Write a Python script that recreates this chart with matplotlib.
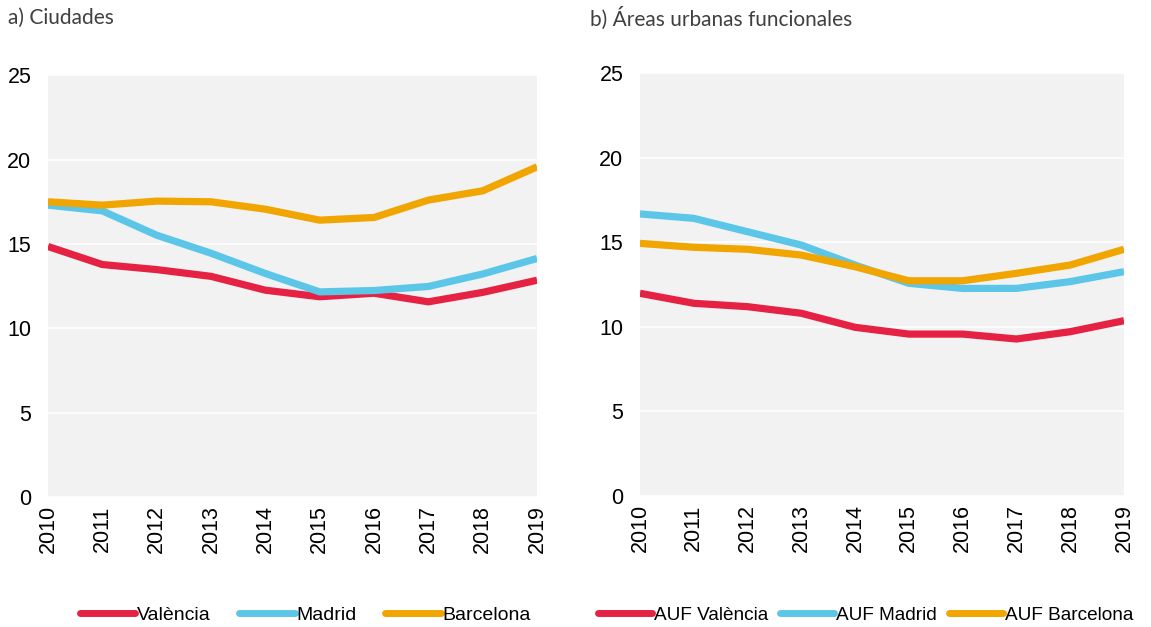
import matplotlib
matplotlib.use("Agg")
import matplotlib.pyplot as plt

years = [2010, 2011, 2012, 2013, 2014, 2015, 2016, 2017, 2018, 2019]

# a) Ciudades
valencia = [14.85, 13.78, 13.48, 13.08, 12.26, 11.87, 12.08, 11.57, 12.13, 12.85]
madrid = [17.3, 16.96, 15.52, 14.45, 13.25, 12.16, 12.24, 12.48, 13.22, 14.14]
barcelona = [17.5, 17.3, 17.54, 17.5, 17.06, 16.41, 16.57, 17.6, 18.15, 19.57]

# b) Areas urbanas funcionales
auf_valencia = [11.98, 11.39, 11.19, 10.8, 9.97, 9.57, 9.57, 9.28, 9.71, 10.36]
auf_madrid = [16.67, 16.41, 15.62, 14.83, 13.65, 12.57, 12.27, 12.27, 12.67, 13.26]
auf_barcelona = [14.93, 14.7, 14.58, 14.24, 13.55, 12.72, 12.72, 13.16, 13.65, 14.58]

red = '#E52243'
blue = '#5CC6E9'
orange = '#F0A500'

plt.rcParams['font.family'] = ['Liberation Sans', 'DejaVu Sans']

fig = plt.figure(figsize=(11.51, 6.27), dpi=100)
ax1 = fig.add_axes([0.0417, 0.2073, 0.4249, 0.6727])
ax2 = fig.add_axes([0.556, 0.2089, 0.4205, 0.6747])

panels = [
    (ax1, 'a) Ciudades', [valencia, madrid, barcelona],
     ['València', 'Madrid', 'Barcelona'], 0.007, 0.0695, 1.45, 14),
    (ax2, 'b) Áreas urbanas funcionales', [auf_valencia, auf_madrid, auf_barcelona],
     ['AUF València', 'AUF Madrid', 'AUF Barcelona'], 0.5126, 0.5195, 0.62, 13.7),
]

for ax, title, series, labels, tx, lx, colsp, lfs in panels:
    ax.set_facecolor('#F2F2F2')
    for vals, lab, col in zip(series, labels, [red, blue, orange]):
        ax.plot(years, vals, color=col, lw=5.2, label=lab, solid_capstyle='butt')
    ax.set_xlim(years[0], years[-1])
    ax.set_ylim(0, 25)
    ax.set_yticks([0, 5, 10, 15, 20, 25])
    ax.set_xticks(years)
    ax.set_xticklabels([str(y) for y in years], rotation=90)
    ax.grid(axis='y', color='white', lw=1.2)
    ax.set_axisbelow(True)
    for s in ax.spines.values():
        s.set_visible(False)
    ax.tick_params(length=0, labelsize=15.5)
    ax.tick_params(axis='y', pad=12)
    ax.tick_params(axis='x', pad=6)
    fig.text(tx, 0.971, title, family=['Lato', 'DejaVu Sans'],
             fontsize=15, color='#404040', va='center', ha='left')
    leg = ax.legend(loc='center left', bbox_to_anchor=(lx, 0.019),
                    bbox_transform=fig.transFigure, ncol=3, frameon=False,
                    fontsize=lfs, handlelength=2.85, handletextpad=0.1,
                    columnspacing=colsp, borderpad=0, borderaxespad=0)
    for h in leg.get_lines():
        h.set_linewidth(5)
        h.set_solid_capstyle('round')

fig.savefig('out.png', dpi=100)
